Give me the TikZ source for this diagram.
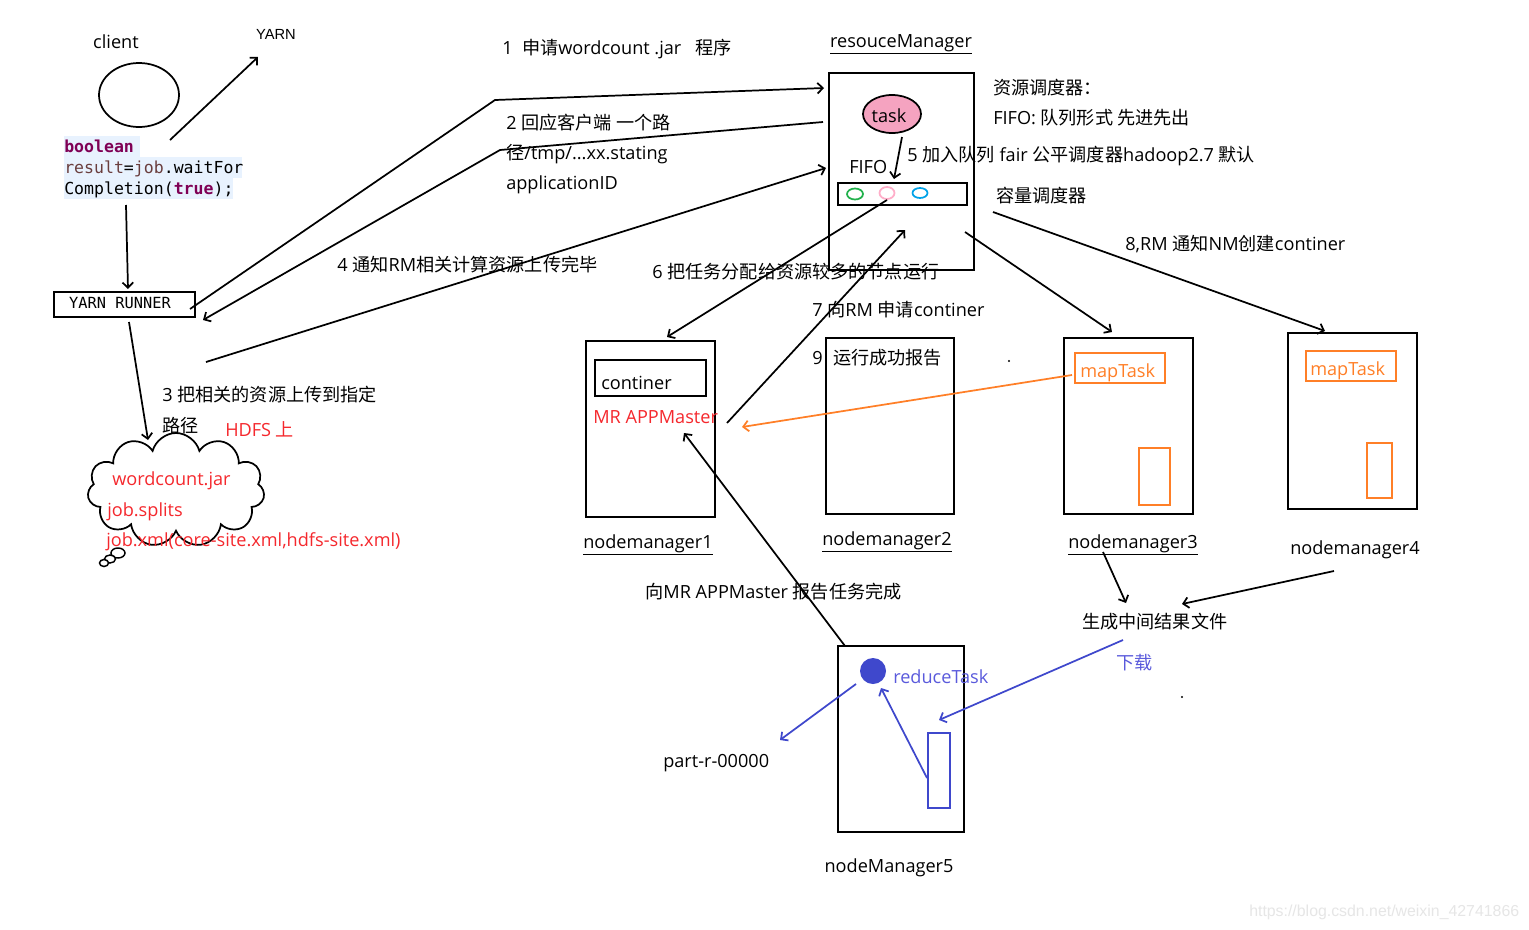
\documentclass[tikz,border=0pt]{standalone}
\usepackage{fontspec}
\setmainfont{Open Sans}
\newfontfamily\cjkf{Noto Sans CJK SC}
\newfontfamily\codef{DejaVu Sans Mono}
\newfontfamily\arialf{Liberation Sans}
\newcommand\cn[1]{{\cjkf #1}}
\usetikzlibrary{arrows.meta,shapes.symbols,shapes.geometric}
\definecolor{redtxt}{HTML}{F5282D}
\definecolor{orng}{HTML}{FF7F27}
\definecolor{blu}{HTML}{3F48CC}
\definecolor{blutxt}{HTML}{5A5ADC}
\definecolor{pinkf}{HTML}{F5A3C0}
\definecolor{pinkc}{HTML}{FFAEC9}
\definecolor{grn}{HTML}{22B14C}
\definecolor{cyn}{HTML}{00A2E8}
\definecolor{kwd}{HTML}{7F0055}
\definecolor{varc}{HTML}{6A3E3E}
\definecolor{codebg}{HTML}{E8F2FE}
\definecolor{wm}{HTML}{E6E6E6}
\begin{document}
\begin{tikzpicture}[x=0.75pt,y=-0.75pt,
  lbl/.style={anchor=base west,inner sep=0pt,font=\fontsize{13.6}{16}\selectfont},
  clbl/.style={anchor=base,inner sep=0pt,font=\fontsize{13.6}{16}\selectfont},
  code/.style={anchor=base west,inner sep=0pt,font=\codef\fontsize{12.4}{14}\selectfont},
  box/.style={draw,line width=1.7pt,anchor=north west,inner sep=0pt},
  obox/.style={draw=orng,line width=1.3pt,anchor=north west,inner sep=0pt},
  ln/.style={line width=1.3pt},
  arr/.style={line width=1.3pt,-{Straight Barb[length=4pt,width=8pt]}},
]
\useasboundingbox (0,0) rectangle (1529,929);
\fill[white] (0,0) rectangle (1529,929);

% ---------- client ----------
\node[clbl] (clientlbl) at (116,48) {client};
\node[draw,ellipse,line width=1.3pt,inner sep=0pt,minimum width=80*0.75pt,minimum height=64*0.75pt] (client) at (139,95) {};
\node[anchor=base,inner sep=0pt,font=\arialf\fontsize{11}{13}\selectfont] (yarn) at (276,39) {YARN};

% code highlight
\fill[codebg] (64,136) rectangle (140,157);
\fill[codebg] (64,157) rectangle (242,178);
\fill[codebg] (64,178) rectangle (233,199);
\node[code] (code1) at (64,152) {\textcolor{kwd}{\bfseries boolean}};
\node[code] (code2) at (64,173) {\textcolor{varc}{result}=\textcolor{varc}{job}.waitFor};
\node[code] (code3) at (64,194) {Completion(\textcolor{kwd}{\bfseries true});};

\node[box,minimum width=141*0.75pt,minimum height=25*0.75pt] (yr) at (53,291) {};
\node[anchor=center,inner sep=0pt,font=\codef\fontsize{11.5}{13}\selectfont] (yrt) at (120,303.5) {YARN RUNNER};

\coordinate (yarnS) at (170,140);
\coordinate (yarnE) at (258,57);
\draw[arr] (yarnS) -- (yarnE);
\coordinate (codeS) at (126,205);
\coordinate (yrTop) at (128,289);
\draw[arr] (codeS) -- (yrTop);

% ---------- resource manager ----------
\node[clbl] (rmlbl) at (901,47) {\underline{resouceManager}};
\node[box,minimum width=145*0.75pt,minimum height=197*0.75pt] (rm) at (828,72) {};
\node[draw,ellipse,fill=pinkf,line width=1.3pt,inner sep=0pt,minimum width=58*0.75pt,minimum height=38*0.75pt] (task) at (892,114) {};
\node[clbl] (tasklbl) at (889,122) {task};
\node[lbl] (fifo) at (849,173) {FIFO};
\node[draw,line width=1.7pt,anchor=north west,inner sep=0pt,minimum width=129*0.75pt,minimum height=22*0.75pt] (queue) at (837,182) {};
\node[draw=grn,ellipse,line width=1.3pt,inner sep=0pt,minimum width=16*0.75pt,minimum height=11*0.75pt] (qg) at (855,194) {};
\node[draw=pinkc,ellipse,line width=1.3pt,inner sep=0pt,minimum width=15*0.75pt,minimum height=12*0.75pt] (qp) at (887,193) {};
\node[draw=cyn,ellipse,line width=1.3pt,inner sep=0pt,minimum width=15*0.75pt,minimum height=10*0.75pt] (qb) at (920,193) {};

\node[lbl] (sched) at (993,94) {\cn{资源调度器：}};
\node[lbl] (fifodesc) at (993,124) {FIFO: \cn{队列形式 先进先出}};
\node[lbl] (s5) at (907,161) {5 \cn{加入队列} fair \cn{公平调度器}hadoop2.7 \cn{默认}};
\node[lbl] (cap) at (996,202) {\cn{容量调度器}};

% ---------- step labels ----------
\node[lbl] (s1) at (502,54) {1\ \ \cn{申请}wordcount .jar\ \ \ \cn{程序}};
\node[lbl] (s2a) at (506,129) {2 \cn{回应客户端 一个路}};
\node[lbl] (s2b) at (506,159) {\cn{径}/tmp/...xx.stating};
\node[lbl] (s2c) at (506,189) {applicationID};
\node[lbl] (s4) at (337,271) {4 \cn{通知}RM\cn{相关计算资源上传完毕}};
\node[lbl] (s6) at (652,278) {6 \cn{把任务分配给资源较多的节点运行}};
\node[lbl] (s7) at (812,316) {7 \cn{向}RM \cn{申请}continer};
\node[lbl] (s8) at (1125,250) {8,RM \cn{通知}NM\cn{创建}continer};
\node[lbl] (s3a) at (162,401) {3 \cn{把相关的资源上传到指定}};
\node[lbl] (s3b) at (162,432) {\cn{路径}};
\node[lbl,text=redtxt] (hdfs) at (225,436) {HDFS \cn{上}};

% connectors client <-> RM
\coordinate (a1s) at (190,309);
\coordinate (a1m) at (495,100);
\coordinate (a1e) at (824,88);
\draw[arr] (a1s) -- (a1m) -- (a1e);
\coordinate (a2s) at (823,122);
\coordinate (a2m) at (500,150);
\coordinate (a2e) at (203,320);
\draw[arr] (a2s) -- (a2m) -- (a2e);
\coordinate (a4s) at (206,362);
\coordinate (a4e) at (826,168);
\draw[arr] (a4s) -- (a4e);

% ---------- cloud ----------
\node[cloud,draw,line width=1.3pt,cloud puffs=11,aspect=1.55,inner sep=0pt,minimum width=177*0.75pt,minimum height=114*0.75pt] (cloud) at (176,490) {};
\node[draw,ellipse,line width=1.1pt,fill=white,inner sep=0pt,minimum width=14*0.75pt,minimum height=10*0.75pt] (bub1) at (118,553) {};
\node[draw,ellipse,line width=1.1pt,fill=white,inner sep=0pt,minimum width=11*0.75pt,minimum height=8*0.75pt] (bub2) at (110,559) {};
\node[draw,ellipse,line width=1.1pt,fill=white,inner sep=0pt,minimum width=9*0.75pt,minimum height=7*0.75pt] (bub3) at (104,563) {};
\node[lbl,text=redtxt] (f1) at (112,485) {wordcount.jar};
\node[lbl,text=redtxt] (f2) at (107,516) {job.splits};
\node[lbl,text=redtxt] (f3) at (106,546) {job.xml(core-site.xml,hdfs-site.xml)};
\coordinate (a3s) at (129,322);
\coordinate (a3e) at (148,440);
\draw[arr] (a3s) -- (a3e);

% ---------- node managers ----------
\node[box,minimum width=129*0.75pt,minimum height=176*0.75pt] (nm1) at (585,340) {};
\node[draw,line width=1.7pt,anchor=north west,inner sep=0pt,minimum width=111*0.75pt,minimum height=36*0.75pt] (cont) at (594,359) {};
\node[lbl] (contl) at (601,389) {continer};
\node[lbl,text=redtxt] (mram) at (593,423) {MR APPMaster};
\node[lbl] (nm1l) at (583,548) {\underline{nodemanager1}};

\node[box,minimum width=128*0.75pt,minimum height=176*0.75pt] (nm2) at (825,337) {};
\node[lbl] (s9) at (812,364) {9};
\node[lbl] (s9b) at (833,364) {\cn{运行成功报告}};
\node[lbl] (nm2l) at (822,545) {\underline{nodemanager2}};

\node[box,minimum width=129*0.75pt,minimum height=176*0.75pt] (nm3) at (1063,337) {};
\node[obox,minimum width=90*0.75pt,minimum height=30*0.75pt] (mt3) at (1074,352) {};
\node[lbl,text=orng] (mt3l) at (1080,377) {mapTask};
\node[obox,minimum width=31*0.75pt,minimum height=57*0.75pt] (o3) at (1138,447) {};
\node[lbl] (nm3l) at (1068,548) {\underline{nodemanager3}};

\node[box,minimum width=129*0.75pt,minimum height=176*0.75pt] (nm4) at (1287,332) {};
\node[obox,minimum width=90*0.75pt,minimum height=30*0.75pt] (mt4) at (1305,350) {};
\node[lbl,text=orng] (mt4l) at (1310,375) {mapTask};
\node[obox,minimum width=25*0.75pt,minimum height=55*0.75pt] (o4) at (1366,442) {};
\node[lbl] (nm4l) at (1290,554) {nodemanager4};

% RM connectors
\coordinate (a5s) at (902,137);
\coordinate (a5e) at (894,179);
\draw[arr] (a5s) -- (a5e);
\coordinate (a6s) at (887,200);
\coordinate (a6e) at (667,337);
\draw[arr] (a6s) -- (a6e);
\coordinate (a7s) at (727,423);
\coordinate (a7e) at (905,230);
\draw[arr] (a7s) -- (a7e);
\coordinate (a3ns) at (965,232);
\coordinate (a3ne) at (1112,332);
\draw[arr] (a3ns) -- (a3ne);
\coordinate (a8s) at (993,212);
\coordinate (a8e) at (1325,331);
\draw[arr] (a8s) -- (a8e);
\coordinate (aos) at (1072,375);
\coordinate (aoe) at (742,427);
\draw[arr,draw=orng] (aos) -- (aoe);

% ---------- node manager 5 ----------
\node[box,minimum width=126*0.75pt,minimum height=186*0.75pt] (nm5) at (837,645) {};
\node[circle,fill=blu,inner sep=0pt,minimum size=26*0.75pt] (red) at (873,671) {};
\node[lbl,text=blutxt] (redl) at (893,683) {reduceTask};
\node[draw=blu,line width=1.3pt,anchor=north west,inner sep=0pt,minimum width=22*0.75pt,minimum height=75*0.75pt] (brect) at (927,732) {};
\node[clbl] (nm5l) at (889,872) {nodeManager5};
\node[lbl] (part) at (663,767) {part-r-00000};
\node[lbl] (rep) at (645,598) {\cn{向}MR APPMaster \cn{报告任务完成}};
\node[lbl] (gen) at (1082,628) {\cn{生成中间结果文件}};
\node[lbl,text=blutxt] (dl) at (1116,669) {\cn{下载}};

\coordinate (ars) at (845,646);
\coordinate (are) at (684,433);
\draw[arr] (ars) -- (are);
\coordinate (g1s) at (1103,552);
\coordinate (g1e) at (1126,603);
\draw[arr] (g1s) -- (g1e);
\coordinate (g2s) at (1334,571);
\coordinate (g2e) at (1182,604);
\draw[arr] (g2s) -- (g2e);
\coordinate (bds) at (1123,640);
\coordinate (bde) at (939,720);
\draw[arr,draw=blu] (bds) -- (bde);
\coordinate (brs) at (927,778);
\coordinate (bre) at (881,688);
\draw[arr,draw=blu] (brs) -- (bre);
\coordinate (bps) at (856,684);
\coordinate (bpe) at (780,740);
\draw[arr,draw=blu] (bps) -- (bpe);

% stray dots
\fill (1009,361) circle (1.2);
\fill (1182,697) circle (1.2);

% watermark
\node[anchor=base west,inner sep=0pt,text=wm,font=\arialf\fontsize{11.9}{13}\selectfont] (wmark) at (1249,916) {https://blog.csdn.net/weixin\_42741866};
\end{tikzpicture}
\end{document}
